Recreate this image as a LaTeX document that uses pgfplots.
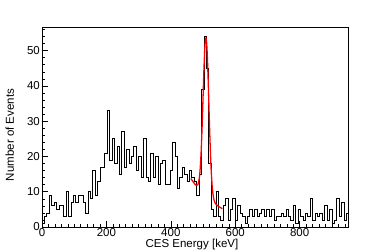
\documentclass[border=0pt]{standalone}
\usepackage{fontspec}
\setmainfont{Liberation Sans}
\usepackage{pgfplots}
\pgfplotsset{compat=1.18}
\usepackage{pgfplotstable}
\pgfplotstableread{
x y
0 0
0 1
7.5 3
15 4
22.5 9
30 6
37.5 7
45 5
52.5 6
60 6
67.5 3
75 10
82.5 3
90 7
97.5 9
105 7
112.5 9
120 9
127.5 7
135 4
142.5 10
150 8
157.5 16
165 9
172.5 13
180 17
187.5 17
195 21
202.5 33
210 19
217.5 25
225 18
232.5 23
240 15
247.5 27
255 17
262.5 22
270 18
277.5 20
285 23
292.5 16
300 20
307.5 14
315 25
322.5 14
330 13
337.5 21
345 14
352.5 20
360 12
367.5 18
375 19
382.5 12
390 12
397.5 16
405 24
412.5 20
420 11
427.5 14
435 17
442.5 15
450 13
457.5 16
465 14
472.5 13
480 9
487.5 15
495 39
502.5 54
510 45
517.5 18
525 5
532.5 3
540 10
547.5 3
555 2
562.5 6
570 8
577.5 2
585 5
592.5 8
600 2
607.5 6
615 4
622.5 3
630 1
637.5 3
645 5
652.5 3
660 5
667.5 3
675 4
682.5 5
690 3
697.5 5
705 3
712.5 5
720 2
727.5 3
735 3
742.5 4
750 3
757.5 5
765 3
772.5 2
780 6
787.5 1
795 5
802.5 3
810 2
817.5 4
825 3
832.5 8
840 2
847.5 4
855 3
862.5 4
870 2
877.5 6
885 2
892.5 5
900 1
907.5 2
915 8
922.5 3
930 7
937.5 2
945 4
950 4
}\histdata
\pgfplotstableread{
x y
462 13.7
464 13.50
468 12.97
472 12.47
476 12.02
480 11.77
484 12.02
488 13.59
490 15.27
492 17.78
494 21.2
496 25.7
498 30.9
500 36.7
502 42.6
504 47.7
506 51.5
508 53.4
510 53.3
512 51.0
514 46.8
516 41.4
518 35.2
520 29.0
522 23.5
524 18.6
526 14.9
528 12.0
530 10.0
532 8.6
534 7.7
536 7.1
540 6.46
544 6.12
548 5.86
552 5.63
556 5.41
560 5.20
}\fitdata
\begin{document}
\begin{tikzpicture}
\useasboundingbox (0,0) rectangle (390bp,252bp);
\begin{axis}[
  at={(42bp,25bp)}, anchor=south west,
  scale only axis, width=306bp, height=200bp,
  xmin=0, xmax=950, ymin=0, ymax=56.7,
  axis line style={black, line width=0.6pt},
  tick pos=left, tick align=inside,
  xtick={0,200,400,600,800},
  ytick={0,10,20,30,40,50},
  minor xtick={20,40,...,940},
  minor ytick={2,4,...,56},
  major tick length=6bp, minor tick length=3bp,
  every tick/.style={black, line width=0.5pt},
  /pgf/number format/assume math mode=true,
  ticklabel style={font=\fontsize{11.5bp}{13bp}\selectfont},
  xticklabel style={inner sep=1.5bp},
  yticklabel style={inner sep=2bp},
  label style={font=\fontsize{11.5bp}{13bp}\selectfont},
  xlabel={CES Energy [keV]},
  ylabel={Number of Events},
  xlabel style={at={(axis description cs:0.49,0)}, anchor=base, yshift=-20.5bp},
  ylabel style={at={(axis description cs:-0.105,0.46)}, anchor=center},
  clip=true,
]
\addplot[const plot mark left, black, line width=0.7pt] table[x=x,y=y] {\histdata};
\addplot[red, line width=1.3pt, smooth] table[x=x,y=y] {\fitdata};
\end{axis}
\end{tikzpicture}
\end{document}
